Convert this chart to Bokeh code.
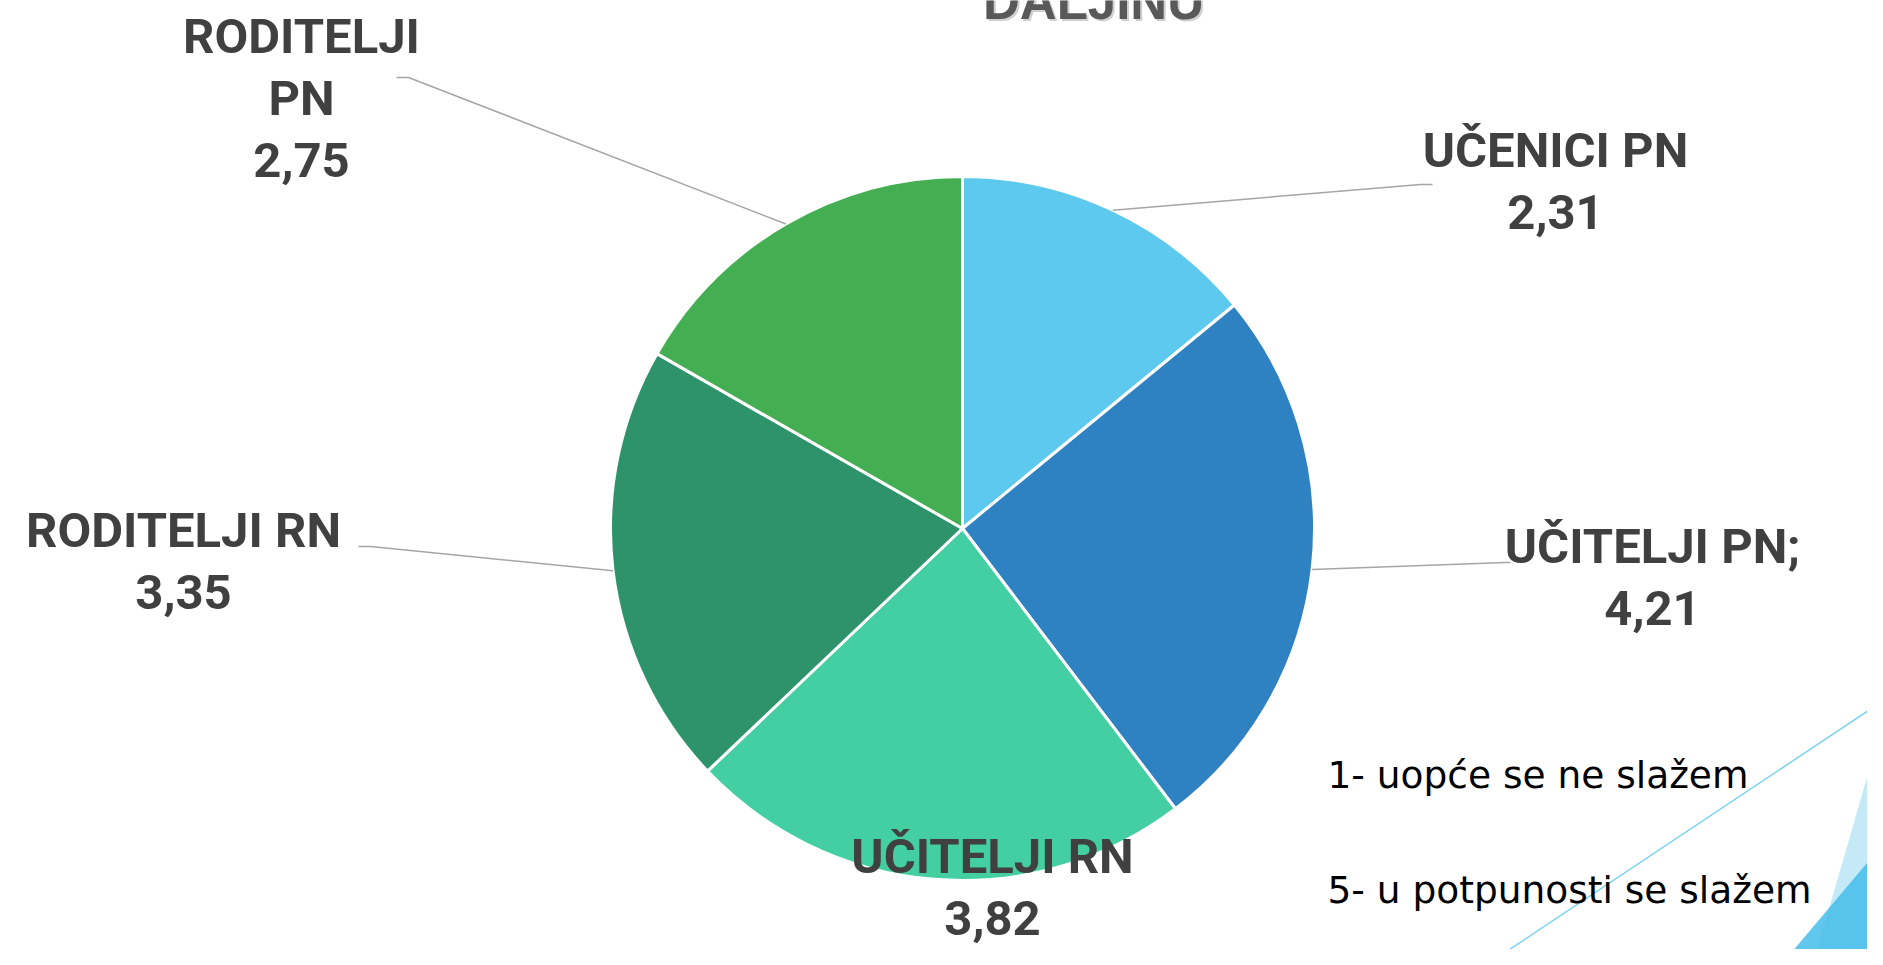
import math
from bokeh.plotting import figure
from bokeh.models import Range1d, ColumnDataSource
from bokeh.core.properties import value
from bokeh.embed import file_html
from bokeh.resources import INLINE

# ---- data ----
categories = ["UČENICI PN", "UČITELJI PN", "UČITELJI RN", "RODITELJI RN", "RODITELJI PN"]
scores = [2.31, 4.21, 3.82, 3.35, 2.75]
colors = ["#5ec9ee", "#2e82c2", "#43cfa2", "#2e936b", "#44af52"]
legend_lines = ["1- uopće se ne slažem", "5- u potpunosti se slažem"]
title_text = "DALJINU"

# ---- layout (reference pixel coordinates, y downward) ----
PW, PH = 1867, 949
H = 965
def Y(y):
    return H - y

CX, CY, R = 962, 528, 352
label_pos = [(1555, 167), (1652, 563), (992, 873), (183, 547), (301, 53)]
label_lines = [
    ["UČENICI PN"],
    ["UČITELJI PN;"],
    ["UČITELJI RN"],
    ["RODITELJI RN"],
    ["RODITELJI", "PN"],
]
elbows = [[(1420, 184), (1432, 184)], [(1505, 562), (1510, 562)], None,
          [(370, 546), (358, 546)], [(408, 77), (396, 77)]]
LINE_H = 61.5
LABEL_FONT = "Roboto"
LABEL_SIZE = 49
LEG_SIZE = 37.5
TITLE_SIZE = 51
BASE_FIX = 0.34  # baseline correction (fraction of font size)

p = figure(width=PW, height=PH, output_backend="svg", toolbar_location=None,
           x_range=Range1d(0, PW), y_range=Range1d(H - PH, H), min_border=0)
p.axis.visible = False
p.grid.visible = False
p.outline_line_color = None
p.background_fill_color = "white"
p.border_fill_color = "white"

# decorations (bottom-right)
p.patch([1883, 1812, 1883], [Y(720), Y(965), Y(965)], fill_color="#c5eaf7", line_color=None)
p.patch([1780, 1883, 1883], [Y(965), Y(843), Y(965)], fill_color="#45bde9", fill_alpha=0.85, line_color=None)
p.line([1485, 1883], [Y(965), Y(700)], line_color="#7fd3f0", line_width=1.5)

# pie
total = sum(scores)
starts, ends, mids = [], [], []
cum = 0.0
for v in scores:
    a0 = math.pi / 2 - (cum + v) / total * 2 * math.pi
    a1 = math.pi / 2 - cum / total * 2 * math.pi
    starts.append(a0)
    ends.append(a1)
    mids.append((a0 + a1) / 2)
    cum += v
src = ColumnDataSource(dict(x=[CX] * len(scores), y=[Y(CY)] * len(scores),
                            start=starts, end=ends, color=colors))
p.wedge(x="x", y="y", radius=R, start_angle="start", end_angle="end",
        fill_color="color", line_color="white", line_width=3, source=src)

# leader lines
for i, el in enumerate(elbows):
    if el is None:
        continue
    sx = CX + R * math.cos(mids[i])
    sy = Y(CY) + R * math.sin(mids[i])
    xs = [sx] + [e[0] for e in el]
    ys = [sy] + [Y(e[1]) for e in el]
    p.line(xs, ys, line_color="#a6a6a6", line_width=1.5)

# labels
tx, ty, tt = [], [], []
for i, (pos, lines) in enumerate(zip(label_pos, label_lines)):
    all_lines = lines + [f"{scores[i]:.2f}".replace(".", ",")]
    for k, ln in enumerate(all_lines):
        tx.append(pos[0])
        ty.append(Y(pos[1] + k * LINE_H - BASE_FIX * LABEL_SIZE))
        tt.append(ln)
p.text(x=tx, y=ty, text=tt, text_align="center", text_baseline="alphabetic",
       text_font=value(LABEL_FONT), text_font_style="bold",
       text_font_size=f"{LABEL_SIZE}px", text_color="#404040")

# legend notes
fix = BASE_FIX * LEG_SIZE
p.text(x=[1327, 1327], y=[Y(787 - fix), Y(902 - fix)], text=legend_lines, text_align="left",
       text_baseline="alphabetic", text_font=value("DejaVu Sans"),
       text_font_size=f"{LEG_SIZE}px", text_color="#000000")

# title (cut at top, as in the slide)
fix = BASE_FIX * TITLE_SIZE
p.text(x=[1095], y=[Y(20 - fix)], text=[title_text], text_align="center",
       text_baseline="alphabetic", text_font=value("Liberation Sans"),
       text_font_style="bold", text_font_size=f"{TITLE_SIZE}px", text_color="#d0d0d0")
p.text(x=[1093], y=[Y(18 - fix)], text=[title_text], text_align="center",
       text_baseline="alphabetic", text_font=value("Liberation Sans"),
       text_font_style="bold", text_font_size=f"{TITLE_SIZE}px", text_color="#595959")

open("out.html", "w").write(file_html(p, INLINE))
